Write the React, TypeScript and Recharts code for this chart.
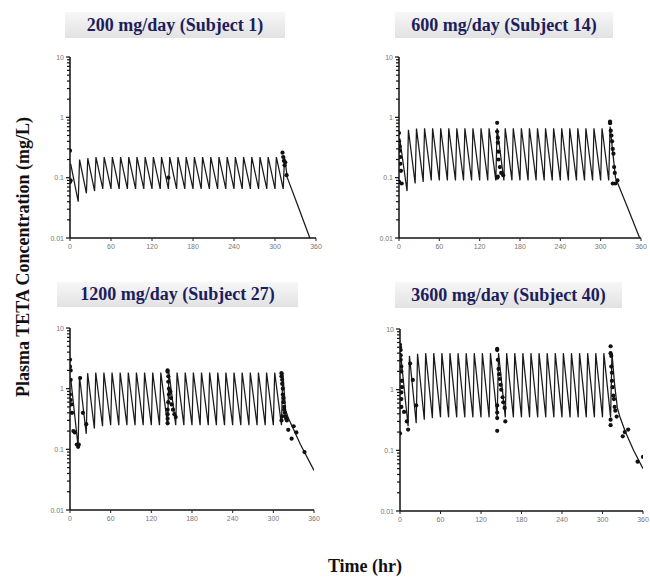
import React from 'react';
import { ComposedChart, Line, Scatter, XAxis, YAxis } from 'recharts';

// dosing timeline (hr): trough before each dose, peak shortly after
const sawTimes = [
  1, 12, 14, 24, 26, 36, 38, 48, 50, 60, 62, 72, 74, 84, 86, 96, 98, 108, 110, 120,
  122, 132, 134, 144, 146, 156, 158, 168, 170, 180, 182, 192, 194, 204, 206, 216,
  218, 228, 230, 240, 242, 252, 254, 264, 266, 276, 278, 288, 290, 300, 302, 312, 314,
];

// model predicted concentrations (mg/L)
const p1Conc = [
  0.17, 0.04, 0.2, 0.055, 0.21, 0.06, 0.22, 0.065, 0.22, 0.065, 0.22, 0.065, 0.22, 0.065,
  0.22, 0.065, 0.22, 0.065, 0.22, 0.065, 0.22, 0.065, 0.22, 0.065, 0.22, 0.065, 0.22, 0.065,
  0.22, 0.065, 0.22, 0.065, 0.22, 0.065, 0.22, 0.065, 0.22, 0.065, 0.22, 0.065, 0.22, 0.065,
  0.22, 0.065, 0.22, 0.065, 0.22, 0.065, 0.22, 0.065, 0.22, 0.065, 0.22,
];
const p2Conc = [
  0.45, 0.06, 0.62, 0.08, 0.65, 0.085, 0.66, 0.09, 0.66, 0.09, 0.66, 0.09, 0.66, 0.09,
  0.66, 0.09, 0.66, 0.09, 0.66, 0.09, 0.66, 0.09, 0.66, 0.09, 0.66, 0.09, 0.66, 0.09,
  0.66, 0.09, 0.66, 0.09, 0.66, 0.09, 0.66, 0.09, 0.66, 0.09, 0.66, 0.09, 0.66, 0.09,
  0.66, 0.09, 0.66, 0.09, 0.66, 0.09, 0.66, 0.09, 0.66, 0.09, 0.7,
];
const p3Conc = [
  1.5, 0.11, 1.6, 0.18, 1.8, 0.22, 1.85, 0.24, 1.85, 0.25, 1.85, 0.25, 1.85, 0.25,
  1.85, 0.25, 1.85, 0.25, 1.85, 0.25, 1.85, 0.25, 1.85, 0.25, 1.85, 0.25, 1.85, 0.25,
  1.85, 0.25, 1.85, 0.25, 1.85, 0.25, 1.85, 0.25, 1.85, 0.25, 1.85, 0.25, 1.85, 0.25,
  1.85, 0.25, 1.85, 0.25, 1.85, 0.25, 1.85, 0.25, 1.85, 0.25, 1.85,
];
const p4Conc = [
  3.8, 0.25, 3.6, 0.28, 3.9, 0.32, 4.0, 0.34, 4.0, 0.35, 4.0, 0.35, 4.0, 0.35,
  4.0, 0.35, 4.0, 0.35, 4.0, 0.35, 4.0, 0.35, 4.0, 0.35, 4.0, 0.35, 4.0, 0.35,
  4.0, 0.35, 4.0, 0.35, 4.0, 0.35, 4.0, 0.35, 4.0, 0.35, 4.0, 0.35, 4.0, 0.35,
  4.0, 0.35, 4.0, 0.35, 4.0, 0.35, 4.0, 0.35, 4.0, 0.35, 4.0,
];

// washout after last dose
const p1TailT = [318, 334, 351];
const p1TailC = [0.1, 0.033, 0.01];
const p2TailT = [322, 340, 358];
const p2TailC = [0.1, 0.032, 0.01];
const p3TailT = [318, 322, 340, 360];
const p3TailC = [0.45, 0.33, 0.12, 0.045];
const p4TailT = [318, 322, 326, 334, 346, 360];
const p4TailC = [1.2, 0.5, 0.35, 0.2, 0.1, 0.05];

// observed concentrations
const p1ObsT = [0, 0, 1, 144, 311, 312, 313, 314, 315, 317];
const p1ObsC = [0.28, 0.085, 0.09, 0.1, 0.26, 0.22, 0.19, 0.16, 0.18, 0.11];

const p2ObsT = [0, 0, 1, 1, 2, 2, 3, 0, 4, 146, 146, 147, 147, 148, 148, 150, 152, 147, 155, 146,
  314, 314, 315, 316, 317, 318, 319, 320, 321, 318, 322, 325];
const p2ObsC = [0.55, 0.4, 0.33, 0.28, 0.22, 0.17, 0.13, 0.085, 0.08, 0.81, 0.58, 0.46, 0.38, 0.27, 0.2, 0.15, 0.12, 0.104, 0.11, 0.1,
  0.85, 0.8, 0.6, 0.5, 0.4, 0.3, 0.25, 0.15, 0.12, 0.08, 0.08, 0.09];

const p3ObsT = [0, 0, 1, 1, 0, 1, 2, 3, 5, 7, 10, 12, 13, 15, 19, 24,
  144, 144, 145, 145, 146, 146, 145, 144, 144, 144, 144, 148, 149, 150, 152, 154, 156,
  312, 312, 313, 313, 314, 314, 315, 315, 316, 316, 317, 313, 318, 312, 319, 320, 322, 327, 330, 334, 346];
const p3ObsC = [3.0, 2.3, 2.0, 1.4, 0.8, 0.65, 0.55, 0.4, 0.2, 0.19, 0.12, 0.11, 0.12, 1.5, 0.4, 0.26,
  2.0, 1.9, 1.6, 1.3, 1.0, 0.8, 0.6, 0.45, 0.38, 0.32, 0.27, 0.9, 0.7, 0.55, 0.45, 0.38, 0.34,
  1.8, 1.6, 1.4, 1.2, 1.0, 0.8, 0.7, 0.6, 0.5, 0.45, 0.4, 0.35, 0.35, 0.3, 0.32, 0.3, 0.21, 0.15, 0.24, 0.19, 0.09];

const p4ObsT = [0, 0, 1, 1, 1, 2, 2, 3, 3, 2, 2, 2, 6, 10, 12, 0, 15, 19, 24,
  144, 144, 145, 146, 147, 148, 149, 150, 152, 153, 155, 156, 144, 144, 144, 144,
  312, 312, 313, 313, 314, 314, 315, 316, 317, 318, 319, 321, 312, 312, 330, 333, 338, 352, 360];
const p4ObsC = [5.5, 5.0, 4.5, 3.7, 3.1, 2.4, 2.0, 1.4, 1.1, 0.9, 0.7, 0.52, 0.43, 0.3, 0.22, 0.19, 2.7, 1.45, 0.55,
  4.7, 4.5, 3.1, 2.2, 1.8, 1.5, 1.2, 1.0, 0.75, 0.62, 0.5, 0.3, 0.55, 0.42, 0.34, 0.21,
  5.2, 4.0, 3.6, 2.4, 1.9, 1.4, 1.1, 0.8, 0.7, 0.52, 0.45, 0.36, 0.32, 0.26, 0.17, 0.2, 0.22, 0.065, 0.078];

const xTicks = [0, 60, 120, 180, 240, 300, 360];
const yTicks = [
  0.01, 0.02, 0.03, 0.04, 0.05, 0.06, 0.07, 0.08, 0.09,
  0.1, 0.2, 0.3, 0.4, 0.5, 0.6, 0.7, 0.8, 0.9,
  1, 2, 3, 4, 5, 6, 7, 8, 9, 10,
];
const yMajor = [0.01, 0.1, 1, 10];
const yMajorLabels = ['0.01', '0.1', '1', '10'];

const titles = ['200 mg/day (Subject 1)', '600 mg/day (Subject 14)', '1200 mg/day (Subject 27)', '3600 mg/day (Subject 40)'];

const toPoints = (ts: number[], cs: number[]) => ts.map((t, i) => ({ t, c: cs[i] }));

const panels = [
  { title: titles[0], conc: p1Conc, tailT: p1TailT, tailC: p1TailC, obsT: p1ObsT, obsC: p1ObsC,
    plot: { x: 70, y: 57, w: 246, h: 181 }, box: { x: 65, y: 12, w: 220, h: 26 } },
  { title: titles[1], conc: p2Conc, tailT: p2TailT, tailC: p2TailC, obsT: p2ObsT, obsC: p2ObsC,
    plot: { x: 399, y: 57, w: 242, h: 181 }, box: { x: 395, y: 12, w: 218, h: 26 } },
  { title: titles[2], conc: p3Conc, tailT: p3TailT, tailC: p3TailC, obsT: p3ObsT, obsC: p3ObsC,
    plot: { x: 70, y: 328, w: 244, h: 182 }, box: { x: 57, y: 282, w: 241, h: 25 } },
  { title: titles[3], conc: p4Conc, tailT: p4TailT, tailC: p4TailC, obsT: p4ObsT, obsC: p4ObsC,
    plot: { x: 400, y: 329, w: 243, h: 182 }, box: { x: 395, y: 282, w: 227, h: 26 } },
];

const YTick = (props: any) => {
  const { x, y, payload } = props;
  const idx = yMajor.findIndex((v) => Math.abs(v - payload.value) < 1e-9);
  const len = idx >= 0 ? 4 : 3;
  return (
    <g>
      <line x1={x - len} y1={y} x2={x} y2={y} stroke="#111" strokeWidth={1.2} />
      {idx >= 0 && (
        <text x={x - 6} y={y} dy={2.5} textAnchor="end" fontSize={7} fill="#777" fontFamily="Arial, sans-serif">
          {yMajorLabels[idx]}
        </text>
      )}
    </g>
  );
};

const Dot = (props: any) => <circle cx={props.cx} cy={props.cy} r={2.1} fill="#111" />;

const LEFT = 50;
const TOP = 12;
const RIGHT = 14;
const BOTTOM = 25;

function Panel({ p }: { p: (typeof panels)[number] }) {
  const lineData = [...toPoints(sawTimes, p.conc), ...toPoints(p.tailT, p.tailC)];
  const obsData = toPoints(p.obsT, p.obsC);
  return (
    <>
      <div
        style={{
          position: 'absolute', left: p.box.x, top: p.box.y, width: p.box.w, height: p.box.h,
          background: 'linear-gradient(to bottom, #f7f7f7, #e2e2e2)',
          display: 'flex', alignItems: 'center', justifyContent: 'center',
          fontFamily: '"Liberation Serif", "Times New Roman", serif', fontWeight: 'bold', fontSize: 18,
          color: '#1d1d5c', whiteSpace: 'nowrap',
        }}
      >
        {p.title}
      </div>
      <div style={{ position: 'absolute', left: p.plot.x - LEFT, top: p.plot.y - TOP }}>
        <ComposedChart
          width={p.plot.w + LEFT + RIGHT}
          height={p.plot.h + TOP + BOTTOM}
          margin={{ top: TOP, right: RIGHT, bottom: 0, left: 0 }}
        >
          <XAxis
            type="number"
            dataKey="t"
            domain={[0, 360]}
            ticks={xTicks}
            height={BOTTOM}
            axisLine={{ stroke: '#111', strokeWidth: 1.5 }}
            tickLine={{ stroke: '#222' }}
            tickSize={3}
            tickMargin={3}
            tick={{ fontSize: 7, fill: '#777', fontFamily: 'Arial, sans-serif' }}
            allowDataOverflow
          />
          <YAxis
            type="number"
            dataKey="c"
            scale="log"
            domain={[0.01, 10]}
            ticks={yTicks}
            width={LEFT}
            allowDataOverflow
            axisLine={{ stroke: '#111', strokeWidth: 1.5 }}
            tickLine={false}
            tickSize={0}
            tickMargin={0}
            interval={0}
            tick={YTick}
          />
          <Line
            data={lineData}
            dataKey="c"
            type="linear"
            stroke="#1a1a1a"
            strokeWidth={1.25}
            dot={false}
            activeDot={false}
            isAnimationActive={false}
          />
          <Scatter data={obsData} dataKey="c" shape={Dot} isAnimationActive={false} />
        </ComposedChart>
      </div>
    </>
  );
}

export default function App() {
  return (
    <div style={{ position: 'absolute', left: 0, top: 0, width: 650, height: 578, background: '#fff', overflow: 'hidden' }}>
      {panels.map((p) => (
        <Panel key={p.title} p={p} />
      ))}
      <div
        style={{
          position: 'absolute', left: 23, top: 257, transform: 'translate(-50%, -50%) rotate(-90deg)',
          fontFamily: '"Liberation Serif", "Times New Roman", serif', fontWeight: 'bold', fontSize: 18,
          color: '#111', whiteSpace: 'nowrap',
        }}
      >
        Plasma TETA Concentration (mg/L)
      </div>
      <div
        style={{
          position: 'absolute', left: 365, top: 566, transform: 'translate(-50%, -50%)',
          fontFamily: '"Liberation Serif", "Times New Roman", serif', fontWeight: 'bold', fontSize: 18,
          color: '#111', whiteSpace: 'nowrap',
        }}
      >
        Time (hr)
      </div>
    </div>
  );
}
